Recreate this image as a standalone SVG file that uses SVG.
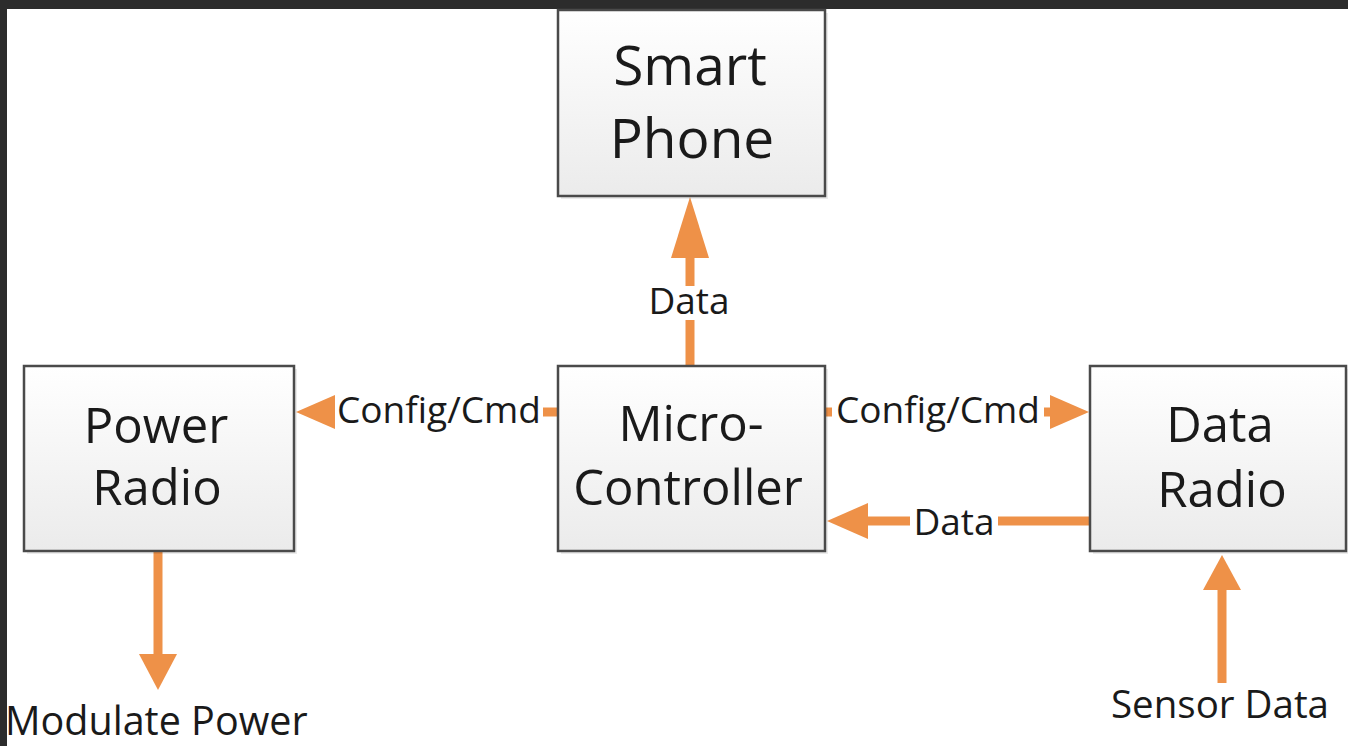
<svg xmlns="http://www.w3.org/2000/svg" width="1348" height="746" viewBox="0 0 1348 746">
<style>
.box{fill:url(#g);stroke:#4a4a4a;stroke-width:2.5}
.shadow{fill:#000;opacity:0.08}
.bt{font-family:"Open Sans","Noto Sans",sans-serif;fill:#1a1a1a;text-anchor:middle}
.lb{font-family:"Open Sans","Noto Sans",sans-serif;fill:#1a1a1a;text-anchor:middle;font-size:37px}
.big{font-size:39.5px}
.mid{font-size:38.5px}
.ln{stroke:#EE9148;stroke-width:9;fill:none}
.hd{fill:#EE9148}
.bg{fill:#ffffff}
</style>
<defs>
<linearGradient id="g" x1="0" y1="0" x2="0" y2="1">
<stop offset="0" stop-color="#ffffff"/>
<stop offset="1" stop-color="#ebebeb"/>
</linearGradient>
</defs>
<rect x="0" y="0" width="1348" height="746" fill="#ffffff"/>
<rect x="0" y="0" width="1348" height="9" fill="#2c2c2c"/>
<rect x="0" y="0" width="7" height="746" fill="#2c2c2c"/>

<g id="connectors">
<g id="c-up-data">
<line class="ln" x1="690" y1="366" x2="690" y2="255"/>
<polygon class="hd" points="690,197 671,258 709,258"/>
<rect class="bg" x="646" y="286" width="88" height="34"/>
<text class="lb" x="689" y="314">Data</text>
</g>
<g id="c-left-config">
<line class="ln" x1="558" y1="412" x2="330" y2="412"/>
<polygon class="hd" points="296,412 335,395 335,429"/>
<rect class="bg" x="335" y="396" width="208" height="34"/>
<text class="lb" x="439" y="423">Config/Cmd</text>
</g>
<g id="c-right-config">
<line class="ln" x1="825" y1="412" x2="1054" y2="412"/>
<polygon class="hd" points="1089,412 1050,395 1050,429"/>
<rect class="bg" x="832" y="396" width="212" height="34"/>
<text class="lb" x="938" y="423">Config/Cmd</text>
</g>
<g id="c-data-back">
<line class="ln" x1="1090" y1="521" x2="864" y2="521"/>
<polygon class="hd" points="827,521 868,503 868,539"/>
<rect class="bg" x="910" y="505" width="88" height="34"/>
<text class="lb" x="954" y="535">Data</text>
</g>
<g id="c-power-down">
<line class="ln" x1="158" y1="551" x2="158" y2="660"/>
<polygon class="hd" points="158,690 139,654 177,654"/>
</g>
<g id="c-sensor-up">
<line class="ln" x1="1222" y1="683" x2="1222" y2="585"/>
<polygon class="hd" points="1222,555 1203,590 1241,590"/>
</g>
</g>

<g id="smart-phone">
<rect class="shadow" x="561" y="13" width="267" height="186"/>
<rect class="box" x="558" y="10" width="267" height="186"/>
<text class="bt" font-size="55" x="690" y="85">Smart</text>
<text class="bt" font-size="55" x="692" y="158">Phone</text>
</g>
<g id="power-radio">
<rect class="shadow" x="27" y="369" width="270" height="185"/>
<rect class="box" x="24" y="366" width="270" height="185"/>
<text class="bt" font-size="49" x="156" y="443">Power</text>
<text class="bt" font-size="49" x="157" y="505">Radio</text>
</g>
<g id="micro-controller">
<rect class="shadow" x="561" y="369" width="267" height="185"/>
<rect class="box" x="558" y="366" width="267" height="185"/>
<text class="bt" font-size="49" x="691" y="441">Micro-</text>
<text class="bt" font-size="49" x="688" y="505">Controller</text>
</g>
<g id="data-radio">
<rect class="shadow" x="1093" y="369" width="256" height="185"/>
<rect class="box" x="1090" y="366" width="256" height="185"/>
<text class="bt" font-size="49" x="1220" y="442">Data</text>
<text class="bt" font-size="49" x="1222" y="507">Radio</text>
</g>

<g id="labels">
<text class="lb big" style="text-anchor:start" x="5" y="735">Modulate Power</text>
<text class="lb mid" x="1220" y="718">Sensor Data</text>
</g>
</svg>
